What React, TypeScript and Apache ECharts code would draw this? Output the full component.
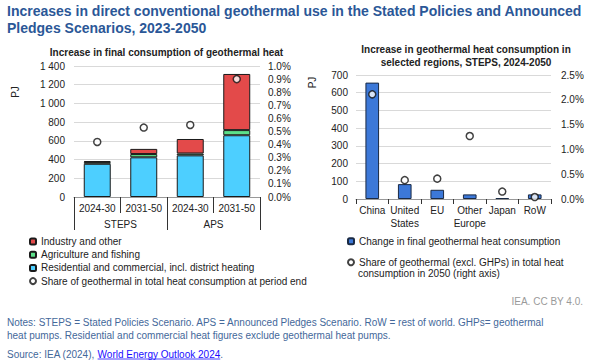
import React, { useEffect, useRef } from "react";
import * as echarts from "echarts";

const periods = ["2024-30", "2031-50", "2024-30", "2031-50"];
const scenarios = ["STEPS", "APS"];
const residential = [355, 424, 445, 660];
const agriculture = [18, 35, 20, 55];
const industry = [10, 55, 155, 600];
const shareLeft = [0.0042, 0.0053, 0.0055, 0.009];

const regions = ["China", "United\nStates", "EU", "Other\nEurope", "Japan", "RoW"];
const regionChange = [657, 84, 52, 26, 5, 26];
const regionShare = [0.0211, 0.0038, 0.0041, 0.0127, 0.0015, 0.0004];

const FONT = "'Liberation Sans', Arial, sans-serif";
const TXT = "#222";

function measure(text: string, font: string): number {
  const c = document.createElement("canvas").getContext("2d");
  if (!c) return text.length * 5;
  c.font = font;
  return c.measureText(text).width;
}

function thousands(n: number): string {
  return n >= 1000 ? `${Math.floor(n / 1000)} ${String(n % 1000).padStart(3, "0")}` : String(n);
}

export default function App() {
  const ref = useRef<HTMLDivElement>(null);
  useEffect(() => {
    if (!ref.current) return;
    const chart = echarts.init(ref.current, undefined, { renderer: "svg" });
    const srcPrefix = "Source: IEA (2024), ";
    const linkText = "World Energy Outlook 2024";
    const w1 = measure(srcPrefix, `10px ${FONT}`);
    const w2 = measure(linkText, `10px ${FONT}`);
    const axisLabel = { fontSize: 10, color: TXT, fontFamily: FONT };
    const legendText = { fontSize: 10, color: TXT, lineHeight: 12, fontFamily: FONT };
    const option: any = {
      animation: false,
      textStyle: { fontFamily: FONT },
      title: [
        {
          text: "Increases in direct conventional geothermal use in the Stated Policies and Announced\nPledges Scenarios, 2023-2050",
          left: 7,
          top: 2,
          padding: 0,
          textStyle: { fontSize: 14, fontWeight: "bold", color: "#2b5797", lineHeight: 17, fontFamily: FONT },
        },
        {
          text: "Increase in final consumption of geothermal heat",
          left: 166.5,
          top: 47.5,
          textAlign: "center",
          padding: 0,
          textStyle: { fontSize: 10, fontWeight: "bold", color: TXT, fontFamily: FONT },
        },
        {
          text: "Increase in geothermal heat consumption in\nselected regions, STEPS, 2024-2050",
          left: 466,
          top: 43.5,
          textAlign: "center",
          padding: 0,
          textStyle: { fontSize: 10, fontWeight: "bold", color: TXT, lineHeight: 12.5, fontFamily: FONT },
        },
      ],
      grid: [
        { left: 74, width: 186, top: 66, height: 131 },
        { left: 356, width: 195, top: 75, height: 124 },
      ],
      xAxis: [
        {
          type: "category",
          gridIndex: 0,
          data: periods,
          axisLine: { show: true, lineStyle: { color: "#999" } },
          axisTick: { show: true, length: 16, lineStyle: { color: "#333" } },
          axisLabel: { ...axisLabel, margin: 6, interval: 0 },
        },
        {
          type: "category",
          gridIndex: 0,
          position: "bottom",
          data: scenarios,
          axisLine: { show: false },
          axisTick: { show: true, length: 33, lineStyle: { color: "#333" } },
          axisLabel: { ...axisLabel, margin: 22, interval: 0 },
        },
        {
          type: "category",
          gridIndex: 1,
          data: regions,
          axisLine: { show: true, lineStyle: { color: "#999" } },
          axisTick: { show: true, length: 5, lineStyle: { color: "#333" } },
          axisLabel: { ...axisLabel, margin: 5, interval: 0, lineHeight: 13 },
        },
      ],
      yAxis: [
        {
          type: "value",
          gridIndex: 0,
          min: 0,
          max: 1400,
          interval: 200,
          axisLine: { show: false },
          axisTick: { show: false },
          splitLine: { lineStyle: { color: "#d9d9d9" } },
          axisLabel: { ...axisLabel, margin: 9, formatter: (v: number) => thousands(v) },
        },
        {
          type: "value",
          gridIndex: 0,
          position: "right",
          min: 0,
          max: 0.01,
          interval: 0.001,
          axisLine: { show: false },
          axisTick: { show: false },
          splitLine: { show: false },
          axisLabel: { ...axisLabel, margin: 8, formatter: (v: number) => `${(v * 100).toFixed(1)}%` },
        },
        {
          type: "value",
          gridIndex: 1,
          min: 0,
          max: 700,
          interval: 100,
          axisLine: { show: false },
          axisTick: { show: false },
          splitLine: { lineStyle: { color: "#d9d9d9" } },
          axisLabel: { ...axisLabel, margin: 8 },
        },
        {
          type: "value",
          gridIndex: 1,
          position: "right",
          min: 0,
          max: 0.025,
          interval: 0.005,
          axisLine: { show: false },
          axisTick: { show: false },
          splitLine: { show: false },
          axisLabel: { ...axisLabel, margin: 10, formatter: (v: number) => `${(v * 100).toFixed(1)}%` },
        },
      ],
      legend: [
        {
          data: [
            "Industry and other",
            "Agriculture and fishing",
            "Residential and commercial, incl. district heating",
            { name: "Share of geothermal in total heat consumption at period end", icon: "circle" },
          ],
          orient: "vertical",
          left: 29,
          top: 235.5,
          padding: 0,
          itemWidth: 6,
          itemHeight: 6,
          itemGap: 1.2,
          selectedMode: false,
          textStyle: legendText,
        },
        {
          data: ["Change in final geothermal heat consumption"],
          orient: "vertical",
          left: 347,
          top: 235.3,
          padding: 0,
          itemWidth: 6,
          itemHeight: 6,
          selectedMode: false,
          textStyle: legendText,
        },
        {
          data: [{ name: "Share of geothermal (excl. GHPs) in total heat", icon: "circle" }],
          orient: "vertical",
          left: 347,
          top: 256.3,
          padding: 0,
          itemWidth: 6,
          itemHeight: 6,
          selectedMode: false,
          textStyle: legendText,
        },
      ],
      series: [
        {
          name: "Residential and commercial, incl. district heating",
          type: "bar",
          stack: "left",
          xAxisIndex: 0,
          yAxisIndex: 0,
          barWidth: "58%",
          data: residential,
          itemStyle: { color: "#4dcfff", borderColor: "#1a1a1a", borderWidth: 1 },
        },
        {
          name: "Agriculture and fishing",
          type: "bar",
          stack: "left",
          xAxisIndex: 0,
          yAxisIndex: 0,
          data: agriculture,
          itemStyle: { color: "#5ce08a", borderColor: "#1a1a1a", borderWidth: 1 },
        },
        {
          name: "Industry and other",
          type: "bar",
          stack: "left",
          xAxisIndex: 0,
          yAxisIndex: 0,
          data: industry,
          itemStyle: { color: "#e34a4a", borderColor: "#1a1a1a", borderWidth: 1 },
        },
        {
          name: "Share of geothermal in total heat consumption at period end",
          type: "scatter",
          xAxisIndex: 0,
          yAxisIndex: 1,
          data: shareLeft,
          symbol: "circle",
          symbolSize: 7,
          z: 5,
          itemStyle: { color: "#fff", borderColor: "#111", borderWidth: 1.5 },
        },
        {
          name: "Change in final geothermal heat consumption",
          type: "bar",
          xAxisIndex: 2,
          yAxisIndex: 2,
          barWidth: "42%",
          data: regionChange,
          itemStyle: { color: "#3c78d8", borderColor: "#1a2a44", borderWidth: 1 },
        },
        {
          name: "Share of geothermal (excl. GHPs) in total heat",
          type: "scatter",
          xAxisIndex: 2,
          yAxisIndex: 3,
          data: regionShare,
          symbol: "circle",
          symbolSize: 7,
          z: 5,
          itemStyle: { color: "#fff", borderColor: "#111", borderWidth: 1.5 },
        },
      ],
      graphic: [
        {
          type: "text",
          x: 15.5,
          y: 92,
          rotation: Math.PI / 2,
          style: { text: "PJ", fontSize: 10, fill: TXT, fontFamily: FONT, align: "center", verticalAlign: "middle" },
        },
        {
          type: "text",
          x: 312,
          y: 82.5,
          rotation: Math.PI / 2,
          style: { text: "PJ", fontSize: 10, fill: TXT, fontFamily: FONT, align: "center", verticalAlign: "middle" },
        },
        {
          type: "text",
          x: 358,
          y: 273.7,
          style: { text: "consumption in 2050 (right axis)", fontSize: 10, fill: TXT, fontFamily: FONT, verticalAlign: "middle" },
        },
        {
          type: "text",
          x: 583,
          y: 301,
          style: { text: "IEA. CC BY 4.0.", fontSize: 10, fill: "#9a9a9a", fontFamily: FONT, align: "right", verticalAlign: "middle" },
        },
        {
          type: "text",
          x: 7,
          y: 322,
          style: {
            text: "Notes: STEPS = Stated Policies Scenario. APS = Announced Pledges Scenario. RoW = rest of world. GHPs= geothermal",
            fontSize: 10,
            fill: "#44689a",
            fontFamily: FONT,
            verticalAlign: "middle",
          },
        },
        {
          type: "text",
          x: 7,
          y: 335,
          style: {
            text: "heat pumps. Residential and commercial heat figures exclude geothermal heat pumps.",
            fontSize: 10,
            fill: "#44689a",
            fontFamily: FONT,
            verticalAlign: "middle",
          },
        },
        {
          type: "text",
          x: 7,
          y: 354,
          style: { text: srcPrefix, fontSize: 10, fill: "#44689a", fontFamily: FONT, verticalAlign: "middle" },
        },
        {
          type: "text",
          x: 7 + w1,
          y: 354,
          style: { text: linkText, fontSize: 10, fill: "#1a0dff", fontFamily: FONT, verticalAlign: "middle" },
        },
        {
          type: "line",
          shape: { x1: 7 + w1, y1: 359, x2: 7 + w1 + w2, y2: 359 },
          style: { stroke: "#1a0dff", lineWidth: 0.8 },
        },
        {
          type: "text",
          x: 7 + w1 + w2,
          y: 354,
          style: { text: ".", fontSize: 10, fill: "#44689a", fontFamily: FONT, verticalAlign: "middle" },
        },
      ],
    };
    chart.setOption(option);
    return () => chart.dispose();
  }, []);
  return <div ref={ref} style={{ width: 594, height: 361, position: "absolute", left: 0, top: 0, background: "#fff" }} />;
}
